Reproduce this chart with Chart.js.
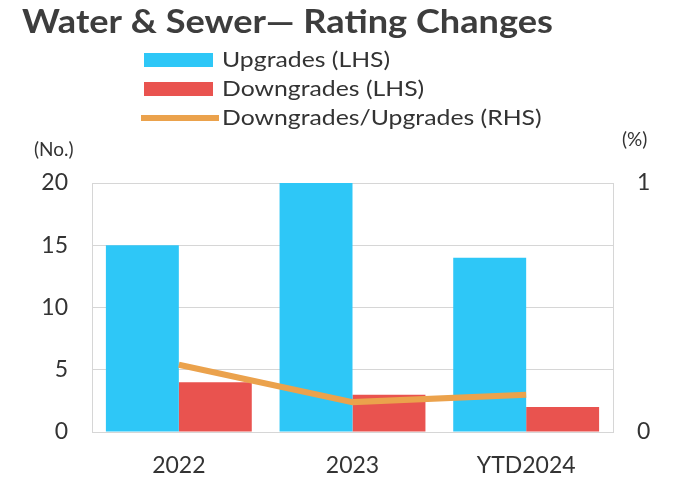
<!DOCTYPE html>
<html>
<head>
<meta charset="utf-8">
<script src="https://cdn.jsdelivr.net/npm/chart.js@4.4.1/dist/chart.umd.min.js"></script>
<style>
  html, body { margin: 0; padding: 0; background: #ffffff; }
  #wrap { width: 675px; height: 478px; position: relative; }
</style>
</head>
<body>
<div id="wrap"><canvas id="c" width="675" height="478"></canvas></div>
<script>
// Rating changes by year
const categories = ['2022', '2023', 'YTD2024'];
const upgrades = [15, 20, 14];
const downgrades = [4, 3, 2];
const downToUpRatio = [0.27, 0.12, 0.15];

const titleText = 'Water & Sewer\u2014 Rating Changes';
const leftAxisUnit = '(No.)';
const rightAxisUnit = '(%)';

const COL_UP = '#2ec7f7';
const COL_DOWN = '#e9534f';
const COL_RATIO = '#eba24c';
const TEXT = '#333333';
const GRID = '#d6d6d6';
const FONT = 'Lato, "Open Sans", sans-serif';

// Draw text slightly widened horizontally
function wideText(ctx, text, x, y, sx) {
  ctx.save();
  ctx.translate(x, y);
  ctx.scale(sx, 1);
  ctx.fillText(text, 0, 0);
  ctx.restore();
}

// Title, stacked legend and horizontal axis unit captions
const decorations = {
  id: 'decorations',
  afterDraw(chart) {
    const ctx = chart.ctx;
    ctx.save();
    ctx.fillStyle = '#3d3d3d';
    ctx.font = 'bold 32px ' + FONT;
    ctx.textBaseline = 'alphabetic';
    ctx.textAlign = 'left';
    wideText(ctx, titleText, 22, 33, 1.13);

    const rows = [60, 89, 118];
    ctx.font = '21px ' + FONT;
    ctx.textBaseline = 'alphabetic';
    chart.data.datasets.forEach((ds, i) => {
      const y = rows[i];
      if (ds.type === 'line') {
        ctx.strokeStyle = ds.borderColor;
        ctx.lineWidth = 6;
        ctx.beginPath();
        ctx.moveTo(141, y);
        ctx.lineTo(219, y);
        ctx.stroke();
      } else {
        ctx.fillStyle = ds.backgroundColor;
        ctx.fillRect(144, y - 7, 69, 14);
      }
      ctx.fillStyle = TEXT;
      wideText(ctx, ds.label, 222, y + 7, 1.18);
    });

    ctx.font = '19px ' + FONT;
    ctx.textBaseline = 'middle';
    ctx.fillStyle = TEXT;
    ctx.fillText(leftAxisUnit, 34, 150);
    ctx.fillText(rightAxisUnit, 622, 140);
    ctx.restore();
  }
};

new Chart(document.getElementById('c'), {
  data: {
    labels: categories,
    datasets: [
      {
        type: 'bar',
        label: 'Upgrades (LHS)',
        data: upgrades,
        yAxisID: 'y',
        backgroundColor: COL_UP,
        categoryPercentage: 0.84,
        barPercentage: 1.0,
        order: 1
      },
      {
        type: 'bar',
        label: 'Downgrades (LHS)',
        data: downgrades,
        yAxisID: 'y',
        backgroundColor: COL_DOWN,
        categoryPercentage: 0.84,
        barPercentage: 1.0,
        order: 1
      },
      {
        type: 'line',
        label: 'Downgrades/Upgrades (RHS)',
        data: downToUpRatio,
        yAxisID: 'y2',
        borderColor: COL_RATIO,
        borderWidth: 6,
        pointRadius: 0,
        tension: 0,
        order: 0
      }
    ]
  },
  options: {
    responsive: false,
    animation: false,
    devicePixelRatio: 1,
    layout: { padding: { top: 183, left: 0, right: 0, bottom: 0 } },
    plugins: {
      legend: { display: false },
      title: { display: false },
      tooltip: { enabled: false }
    },
    scales: {
      x: {
        grid: { display: false },
        border: { display: true, color: GRID, width: 1 },
        ticks: { color: TEXT, font: { family: FONT, size: 23 }, padding: 12 },
        afterFit(scale) { scale.height = 46; }
      },
      y: {
        position: 'left',
        min: 0,
        max: 20,
        ticks: { stepSize: 5, color: TEXT, font: { family: FONT, size: 23 }, padding: 24 },
        grid: { color: GRID, drawTicks: false },
        border: { display: true, color: GRID },
        afterFit(scale) { scale.width = 92; }
      },
      y2: {
        position: 'right',
        min: 0,
        max: 1,
        ticks: { stepSize: 1, color: TEXT, font: { family: FONT, size: 23 }, padding: 24 },
        grid: { display: false, drawTicks: false },
        border: { display: true, color: GRID },
        afterFit(scale) { scale.width = 62; }
      }
    }
  },
  plugins: [decorations]
});
</script>
</body>
</html>
